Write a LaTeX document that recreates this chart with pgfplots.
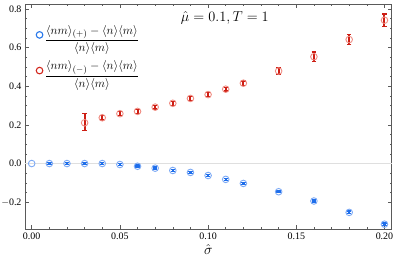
\documentclass[border=0pt]{standalone}
\usepackage{fontspec}
\setmainfont{Liberation Serif}
\usepackage{pgfplots}
\pgfplotsset{compat=1.18}
\definecolor{bluelight}{RGB}{125,170,245}
\definecolor{bluedark}{RGB}{30,110,235}
\definecolor{bluelegend}{RGB}{40,120,235}
\definecolor{redlight}{RGB}{240,140,130}
\definecolor{reddark}{RGB}{205,30,20}
\definecolor{redlegend}{RGB}{210,40,30}
\definecolor{framegray}{RGB}{90,90,90}
\begin{document}
\begin{tikzpicture}
\begin{axis}[
  name=ax,
  scale only axis,
  width=366.7bp, height=225bp,
  xmin=-0.0038, xmax=0.2041,
  ymin=-0.339, ymax=0.826,
  axis line style={framegray, line width=0.8pt},
  tick style={framegray, line width=0.6pt},
  tick align=inside,
  major tick length=4bp, minor tick length=2.2bp,
  xtick={0,0.05,0.1,0.15,0.2},
  minor x tick num=4,
  ytick={-0.2,0,0.2,0.4,0.6,0.8},
  minor y tick num=3,
  xticklabels={0.00,0.05,0.10,0.15,0.20},
  yticklabels={$-$0.2,0.0,0.2,0.4,0.6,0.8},
  ticklabel style={font=\fontsize{10}{12}\selectfont, text=black},
  /pgf/number format/assume math mode=true,
  xlabel={$\hat\sigma$},
  xlabel style={font=\fontsize{15}{15}\selectfont, yshift=2bp},
  legend style={draw=none, fill=none, at={(rel axis cs:0.022,0.925)}, anchor=north west,
    font=\fontsize{12.5}{14}\selectfont, row sep=12bp, legend cell align=left},
  clip=false,
]
\addplot[gray!25, line width=0.6pt, forget plot] coordinates {(-0.0038,0) (0.2041,0)};
\addlegendimage{only marks, mark=o, mark size=3.3bp, mark options={bluelegend, line width=1.1pt}}
\addlegendentry{$\displaystyle\frac{\langle nm\rangle_{(+)}-\langle n\rangle\langle m\rangle}{\langle n\rangle\langle m\rangle}$}
\addlegendimage{only marks, mark=o, mark size=3.3bp, mark options={redlegend, line width=1.1pt}}
\addlegendentry{$\displaystyle\frac{\langle nm\rangle_{(-)}-\langle n\rangle\langle m\rangle}{\langle n\rangle\langle m\rangle}$}
% blue open circles
\addplot[only marks, mark=o, mark size=3.3bp, mark options={bluelight, line width=0.9pt}, forget plot] coordinates {
(0.00,0.000) (0.01,0.000) (0.02,0.000) (0.03,0.000) (0.04,0.000) (0.05,-0.005)
(0.06,-0.014) (0.07,-0.024) (0.08,-0.036) (0.09,-0.046) (0.10,-0.062) (0.11,-0.082)
(0.12,-0.103) (0.14,-0.146) (0.16,-0.194) (0.18,-0.253) (0.20,-0.314)};
% blue error bars
\addplot[only marks, mark=*, mark size=0.01pt, bluedark, forget plot,
  error bars/.cd, y dir=both, y explicit,
  error bar style={line width=2.4bp, bluedark},
  error mark=|, error mark options={line width=1.6pt, mark size=2.2bp, bluedark}]
  coordinates {
(0.01,0.000) +- (0,0.005) (0.02,0.000) +- (0,0.005) (0.03,0.000) +- (0,0.005)
(0.04,0.000) +- (0,0.005) (0.05,-0.005) +- (0,0.005) (0.06,-0.014) +- (0,0.005)
(0.07,-0.024) +- (0,0.005) (0.08,-0.036) +- (0,0.005) (0.09,-0.046) +- (0,0.005)
(0.10,-0.062) +- (0,0.005) (0.11,-0.082) +- (0,0.005) (0.12,-0.103) +- (0,0.005)
(0.14,-0.146) +- (0,0.005) (0.16,-0.194) +- (0,0.006) (0.18,-0.253) +- (0,0.006)
(0.20,-0.314) +- (0,0.006)};
% red open circles
\addplot[only marks, mark=o, mark size=3.3bp, mark options={redlight, line width=0.9pt}, forget plot] coordinates {
(0.03,0.211) (0.04,0.237) (0.05,0.258) (0.06,0.270) (0.07,0.292) (0.08,0.312)
(0.09,0.337) (0.10,0.357) (0.11,0.385) (0.12,0.416) (0.14,0.479) (0.16,0.553)
(0.18,0.642) (0.20,0.742)};
% red error bars
\addplot[only marks, mark=*, mark size=0.01pt, reddark, forget plot,
  error bars/.cd, y dir=both, y explicit,
  error bar style={line width=2bp, reddark},
  error mark=|, error mark options={line width=1.4pt, mark size=2.2bp, reddark}]
  coordinates {
(0.03,0.215) +- (0,0.044) (0.04,0.237) +- (0,0.011) (0.05,0.258) +- (0,0.010)
(0.06,0.270) +- (0,0.010) (0.07,0.292) +- (0,0.010) (0.08,0.312) +- (0,0.010)
(0.09,0.337) +- (0,0.010) (0.10,0.357) +- (0,0.010) (0.11,0.385) +- (0,0.010)
(0.12,0.416) +- (0,0.012) (0.14,0.479) +- (0,0.018) (0.16,0.553) +- (0,0.025)
(0.18,0.642) +- (0,0.026) (0.20,0.742) +- (0,0.032)};
\node[font=\fontsize{14}{16}\selectfont] at (axis cs:0.1095,0.754) {$\hat\mu = 0.1, T = 1$};
\end{axis}
\pgfresetboundingbox
\path[use as bounding box] ([xshift=-25bp,yshift=-40bp]ax.south west) rectangle ([xshift=5.3bp,yshift=4bp]ax.north east);
\end{tikzpicture}
\end{document}
